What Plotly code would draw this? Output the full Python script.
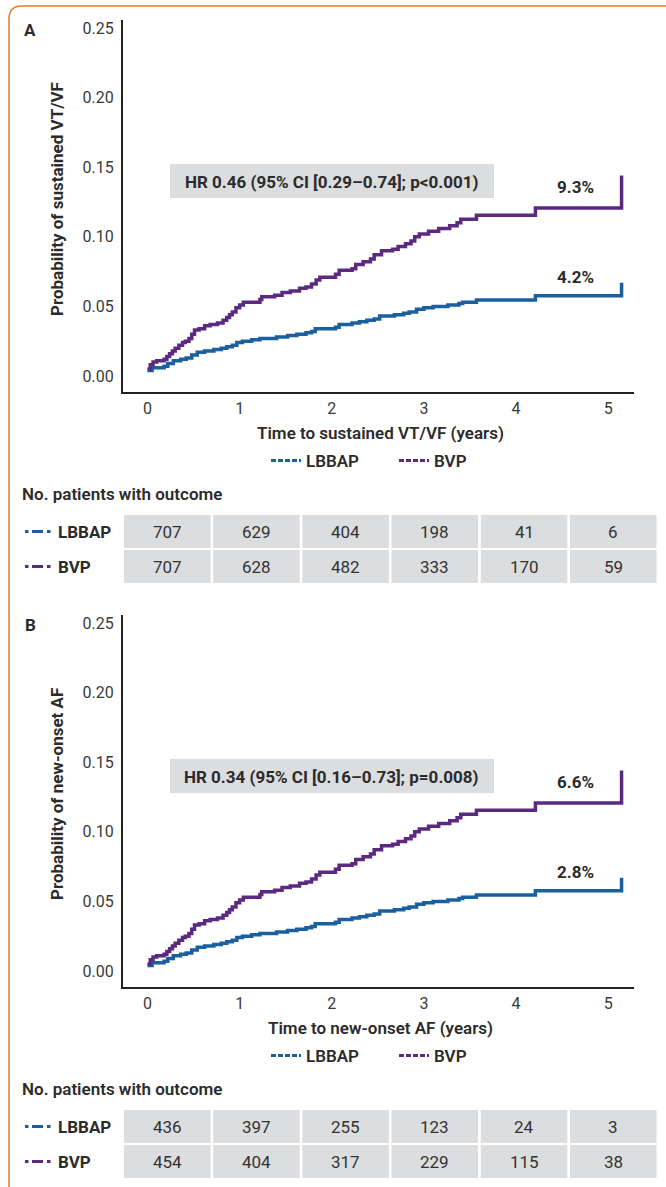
import plotly.graph_objects as go

# ---------------- data ----------------
# Kaplan-Meier style cumulative probability, panel A (sustained VT/VF)
t_bvp = [0.00, 0.03, 0.06, 0.10, 0.18, 0.21, 0.24, 0.27, 0.30, 0.34, 0.38, 0.41, 0.45, 0.48,
         0.51, 0.56, 0.62, 0.68, 0.76, 0.82, 0.86, 0.89, 0.92, 0.96, 1.00, 1.04, 1.22, 1.24,
         1.38, 1.46, 1.55, 1.65, 1.72, 1.78, 1.83, 1.87, 2.04, 2.08, 2.22, 2.26, 2.34, 2.42,
         2.46, 2.54, 2.66, 2.72, 2.80, 2.86, 2.90, 2.95, 3.05, 3.16, 3.28, 3.36, 3.40, 3.57,
         4.21, 5.145, 5.145]
p_bvp = [0.005, 0.008, 0.010, 0.011, 0.012, 0.014, 0.016, 0.018, 0.020, 0.022, 0.024, 0.025,
         0.027, 0.030, 0.033, 0.034, 0.036, 0.037, 0.038, 0.040, 0.042, 0.044, 0.046, 0.049,
         0.051, 0.053, 0.055, 0.057, 0.058, 0.060, 0.061, 0.063, 0.064, 0.066, 0.069, 0.071,
         0.073, 0.076, 0.077, 0.080, 0.082, 0.084, 0.087, 0.090, 0.091, 0.093, 0.095, 0.097,
         0.100, 0.102, 0.104, 0.106, 0.108, 0.110, 0.1125, 0.1155, 0.1207, 0.1207, 0.144]
t_lbbap = [0.00, 0.05, 0.18, 0.22, 0.28, 0.36, 0.42, 0.48, 0.54, 0.62, 0.72, 0.80, 0.86, 0.92,
           0.97, 1.03, 1.13, 1.22, 1.40, 1.52, 1.62, 1.72, 1.78, 1.82, 2.04, 2.08, 2.22, 2.30,
           2.38, 2.46, 2.52, 2.68, 2.78, 2.84, 2.92, 3.00, 3.10, 3.26, 3.38, 3.42, 3.57, 4.21,
           5.145, 5.145]
p_lbbap = [0.004, 0.006, 0.007, 0.009, 0.011, 0.012, 0.013, 0.015, 0.017, 0.018, 0.019, 0.020,
           0.021, 0.022, 0.024, 0.025, 0.026, 0.027, 0.028, 0.029, 0.030, 0.031, 0.032, 0.034,
           0.035, 0.037, 0.038, 0.039, 0.040, 0.041, 0.043, 0.044, 0.045, 0.046, 0.048, 0.049,
           0.050, 0.051, 0.052, 0.053, 0.0545, 0.0577, 0.0577, 0.067]

# Panel B (new-onset AF) curves appear identical to panel A in the reference
t_bvp_b, p_bvp_b = t_bvp, p_bvp
t_lbbap_b, p_lbbap_b = t_lbbap, p_lbbap

x_ticks = [0, 1, 2, 3, 4, 5]
y_ticks = [0.00, 0.05, 0.10, 0.15, 0.20, 0.25]

groups = ["LBBAP", "BVP"]
risk_a_lbbap = [707, 629, 404, 198, 41, 6]
risk_a_bvp = [707, 628, 482, 333, 170, 59]
risk_b_lbbap = [436, 397, 255, 123, 24, 3]
risk_b_bvp = [454, 404, 317, 229, 115, 38]

end_labels_a = ["4.2%", "9.3%"]
end_labels_b = ["2.8%", "6.6%"]
hr_a = "HR 0.46 (95% CI [0.29–0.74]; p<0.001)"
hr_b = "HR 0.34 (95% CI [0.16–0.73]; p=0.008)"
ytitle_a = "Probability of sustained VT/VF"
ytitle_b = "Probability of new-onset AF"
xtitle_a = "Time to sustained VT/VF (years)"
xtitle_b = "Time to new-onset AF (years)"

# ---------------- styling ----------------
W, H = 666, 1187
FONT = "Roboto"
DARK = "#2b2b2b"
BLUE = "#1A5F9E"
PURPLE = "#5B2A80"
CELL = "#DCDDDF"
ORANGE = "#E8782E"
FS = 17


def px(x):
    return x / W


def py(y):
    return 1 - y / H


def note(text, x, y, size=FS, weight=700, color=DARK, xanchor="center", angle=0):
    return dict(text=text, x=px(x), y=py(y), xref="paper", yref="paper", showarrow=False,
                xanchor=xanchor, yanchor="middle", textangle=angle,
                font=dict(family=FONT, size=size, color=color, weight=weight))


fig = go.Figure()

panels = [
    dict(xa="x", ya="y", off=0, tl=t_lbbap, pl=p_lbbap, tb=t_bvp, pb=p_bvp,
         legend="legend", ends=end_labels_a, hr=hr_a, yt=ytitle_a, xt=xtitle_a,
         rl=risk_a_lbbap, rb=risk_a_bvp, letter="A"),
    dict(xa="x2", ya="y2", off=595, tl=t_lbbap_b, pl=p_lbbap_b, tb=t_bvp_b, pb=p_bvp_b,
         legend="legend2", ends=end_labels_b, hr=hr_b, yt=ytitle_b, xt=xtitle_b,
         rl=risk_b_lbbap, rb=risk_b_bvp, letter="B"),
]

shapes = []
annotations = []

for pnl in panels:
    o = pnl["off"]
    # curves
    fig.add_trace(go.Scatter(x=pnl["tl"], y=pnl["pl"], mode="lines", line_shape="hv",
                             line=dict(color=BLUE, width=3.5), showlegend=False,
                             xaxis=pnl["xa"], yaxis=pnl["ya"], hoverinfo="skip"))
    fig.add_trace(go.Scatter(x=pnl["tb"], y=pnl["pb"], mode="lines", line_shape="hv",
                             line=dict(color=PURPLE, width=3.5), showlegend=False,
                             xaxis=pnl["xa"], yaxis=pnl["ya"], hoverinfo="skip"))
    # legend entries (dashed samples)
    for g, col in zip(groups, [BLUE, PURPLE]):
        fig.add_trace(go.Scatter(x=[None], y=[None], mode="lines", name=g,
                                 line=dict(color=col, width=3, dash="5px,2px"),
                                 xaxis=pnl["xa"], yaxis=pnl["ya"], legend=pnl["legend"]))

    annotations.append(note(pnl["letter"], 30, 30 + o))
    annotations.append(note(pnl["yt"], 57, 199 + o, angle=-90))
    annotations.append(note(pnl["xt"], 380, 433 + o, weight=600))
    # HR box
    shapes.append(dict(type="rect", xref="paper", yref="paper",
                       x0=px(170), x1=px(494), y0=py(164 + o), y1=py(198 + o),
                       fillcolor=CELL, line=dict(width=0), layer="below"))
    annotations.append(note(pnl["hr"], 331, 181.5 + o))
    # end labels
    annotations.append(note(pnl["ends"][1], 575, 187 + o))
    annotations.append(note(pnl["ends"][0], 575, 277 + o))
    # table heading
    annotations.append(note("No. patients with outcome", 20, 494 + o, weight=600,
                            xanchor="left"))
    # table rows
    for r, (g, col, vals) in enumerate(zip(groups, [BLUE, PURPLE], [pnl["rl"], pnl["rb"]])):
        y0 = 515 + o + r * 35
        yc = y0 + 16.5
        # row marker  ▪ ▬ ▪
        for a, b in [(25, 28.5), (32, 43), (47, 50.5)]:
            shapes.append(dict(type="line", xref="paper", yref="paper",
                               x0=px(a), x1=px(b), y0=py(yc), y1=py(yc),
                               line=dict(color=col, width=3)))
        annotations.append(note(g, 56, yc, xanchor="left"))
        for i, v in enumerate(vals):
            cx0 = 124 + 89.2 * i
            shapes.append(dict(type="rect", xref="paper", yref="paper",
                               x0=px(cx0), x1=px(cx0 + 86.5), y0=py(y0), y1=py(y0 + 33),
                               fillcolor=CELL, line=dict(width=0), layer="below"))
            annotations.append(note(str(v), cx0 + 43.25, yc, weight=400, color="#333333"))

# orange frame
shapes.append(dict(type="path", xref="paper", yref="paper",
                   path=f"M {px(9)},{py(1187)} L {px(9)},{py(19)} "
                        f"Q {px(9)},{py(6)} {px(22)},{py(6)} L {px(666)},{py(6)}",
                   line=dict(color=ORANGE, width=1.5)))

axis_common = dict(showgrid=False, zeroline=False, showline=True, linecolor="#222222",
                   linewidth=2, ticks="",
                   tickfont=dict(family=FONT, size=16, color="#3a3a3a"))
xax = dict(range=[-0.266, 5.28], tickvals=x_ticks, domain=[px(123), px(634)],
           ticklabelstandoff=1, **axis_common)
yax = dict(range=[-0.0115, 0.2557], tickvals=y_ticks, tickformat=".2f",
           ticklabelstandoff=4, **axis_common)

legend_common = dict(orientation="h", xanchor="left", yanchor="middle",
                     font=dict(family=FONT, size=FS, color=DARK, weight=600),
                     bgcolor="rgba(0,0,0,0)", itemwidth=30, entrywidth=83,
                     entrywidthmode="pixels")

fig.update_layout(
    width=W, height=H,
    margin=dict(l=0, r=0, t=0, b=0),
    paper_bgcolor="white", plot_bgcolor="white",
    font=dict(family=FONT, color=DARK),
    xaxis=dict(anchor="y", **xax),
    yaxis=dict(domain=[py(392), py(20)], anchor="x", **yax),
    xaxis2=dict(anchor="y2", **xax),
    yaxis2=dict(domain=[py(392 + 595), py(20 + 595)], anchor="x2", **yax),
    legend=dict(x=px(266), y=py(461), **legend_common),
    legend2=dict(x=px(266), y=py(461 + 595), **legend_common),
    shapes=shapes,
    annotations=annotations,
)

fig.write_html("out.html", config={"displayModeBar": False},
               post_script="document.body.style.margin='0';document.body.style.padding='0';")
